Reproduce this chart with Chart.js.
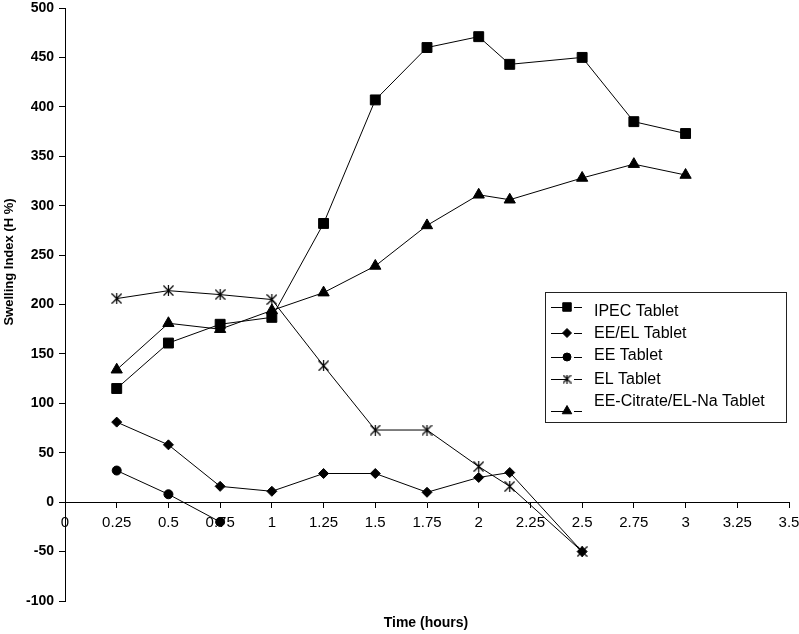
<!DOCTYPE html>
<html>
<head>
<meta charset="utf-8">
<script src="https://cdn.jsdelivr.net/npm/chart.js@4.4.0/dist/chart.umd.min.js"></script>
<style>
html, body { margin: 0; padding: 0; background: #fff; }
#wrap { width: 799px; height: 634px; }
</style>
</head>
<body>
<div id="wrap"><canvas id="linechart"></canvas></div>
<script>
// values
const ipecTimes = [0.25, 0.5, 0.75, 1, 1.25, 1.5, 1.75, 2, 2.15, 2.5, 2.75, 3];
const ipecValues = [115, 161, 180, 187, 282, 407, 460, 471, 443, 450, 385, 373];
const eeElTimes = [0.25, 0.5, 0.75, 1, 1.25, 1.5, 1.75, 2, 2.15, 2.5];
const eeElValues = [81, 58, 16, 11, 29, 29, 10, 25, 30, -50];
const eeTimes = [0.25, 0.5, 0.75];
const eeValues = [32, 8, -20];
const elTimes = [0.25, 0.5, 0.75, 1, 1.25, 1.5, 1.75, 2, 2.15, 2.5];
const elValues = [206, 214, 210, 205, 138, 73, 73, 36, 16, -50];
const citrateTimes = [0.25, 0.5, 0.75, 1, 1.25, 1.5, 1.75, 2, 2.15, 2.5, 2.75, 3];
const citrateValues = [134, 181, 175, 194, 212, 239, 280, 311, 306, 328, 342, 331];

const seriesNames = ['IPEC Tablet', 'EE/EL Tablet', 'EE Tablet', 'EL Tablet', 'EE-Citrate/EL-Na Tablet'];
const xMin = 0, xMax = 3.5, xStep = 0.25;
const yMin = -100, yMax = 500, yStep = 50;

function pairs(xs, ys) {
	return xs.map((x, i) => ({x: x, y: ys[i]}));
}

// six-armed asterisk marker
function asterisk(size) {
	const c = document.createElement('canvas');
	c.width = size; c.height = size;
	const g = c.getContext('2d');
	const m = size / 2;
	g.strokeStyle = '#000';
	g.lineWidth = 1.2;
	g.beginPath();
	g.moveTo(0.5, 0.5); g.lineTo(size - 0.5, size - 0.5);
	g.moveTo(size - 0.5, 0.5); g.lineTo(0.5, size - 0.5);
	g.moveTo(m, 0); g.lineTo(m, size);
	g.stroke();
	return c;
}
const starBig = asterisk(11);
const starSmall = asterisk(9);

function series(label, xs, ys, style, radius) {
	return {
		label: label,
		data: pairs(xs, ys),
		borderColor: '#000',
		backgroundColor: '#000',
		borderWidth: 1,
		pointStyle: style,
		pointRadius: radius,
		pointHoverRadius: radius,
		pointBackgroundColor: '#000',
		pointBorderColor: '#000',
		pointBorderWidth: 1,
		fill: false,
		tension: 0
	};
}

const legendRows = [
	{style: 'rect', r: 6, my: 307, ty: 312},
	{style: 'rectRot', r: 4.5, my: 333, ty: 334},
	{style: 'circle', r: 4, my: 357, ty: 356},
	{style: starSmall, r: 4, my: 379, ty: 380},
	{style: 'triangle', r: 5.5, my: 411, ty: 402}
];

const boxPlugin = {
	id: 'boxLegend',
	afterDraw(chart) {
		const ctx = chart.ctx;
		ctx.save();
		// axis titles
		ctx.fillStyle = '#000';
		ctx.font = 'bold 13px "Liberation Sans", Arial, sans-serif';
		ctx.textAlign = 'center';
		ctx.textBaseline = 'middle';
		ctx.save();
		ctx.translate(9, 262);
		ctx.rotate(-Math.PI / 2);
		ctx.fillText('Swelling Index (H %)', 0, 0);
		ctx.restore();
		ctx.font = 'bold 14px "Liberation Sans", Arial, sans-serif';
		ctx.fillText('Time (hours)', 426, 623);

		// legend box
		ctx.strokeStyle = '#222';
		ctx.lineWidth = 1;
		ctx.strokeRect(545.5, 292.5, 241, 130);
		ctx.font = '16px "Liberation Sans", Arial, sans-serif';
		ctx.textAlign = 'left';
		legendRows.forEach((row, i) => {
			ctx.strokeStyle = '#000';
			ctx.beginPath();
			ctx.moveTo(551, row.my + 0.5);
			ctx.lineTo(568, row.my + 0.5);
			ctx.moveTo(574, row.my + 0.5);
			ctx.lineTo(582, row.my + 0.5);
			ctx.stroke();
			ctx.fillStyle = '#000';
			Chart.helpers.drawPoint(ctx, {pointStyle: row.style, radius: row.r, rotation: 0, borderWidth: 1}, 567, row.my);
			ctx.fillStyle = '#000';
			ctx.fillText(seriesNames[i], 594, row.ty);
		});
		ctx.restore();
	}
};

new Chart(document.getElementById('linechart'), {
	type: 'line',
	data: {
		datasets: [
			series(seriesNames[0], ipecTimes, ipecValues, 'rect', 7),
			series(seriesNames[1], eeElTimes, eeElValues, 'rectRot', 5),
			series(seriesNames[2], eeTimes, eeValues, 'circle', 4.5),
			series(seriesNames[3], elTimes, elValues, starBig, 6),
			series(seriesNames[4], citrateTimes, citrateValues, 'triangle', 6.5)
		]
	},
	options: {
		responsive: true,
		maintainAspectRatio: false,
		animation: false,
		layout: {padding: {left: 0, right: 10, top: 5, bottom: 33}},
		scales: {
			x: {
				type: 'linear',
				position: {y: 0},
				min: xMin,
				max: xMax,
				afterFit(scale) { scale.paddingLeft = 0; scale.paddingRight = 0; },
				ticks: {
					stepSize: xStep,
					autoSkip: false,
					maxRotation: 0,
					color: '#000',
					padding: 7,
					callback: (v) => String(Math.round(v * 100) / 100),
					font: {family: '"Liberation Sans", Arial, sans-serif', size: 15}
				},
				grid: {drawOnChartArea: false, tickLength: 5, color: '#000'},
				border: {color: '#000', width: 1}
			},
			y: {
				position: 'left',
				min: yMin,
				max: yMax,
				afterFit(scale) { scale.width = 65; scale.paddingTop = 0; scale.paddingBottom = 0; },
				ticks: {
					stepSize: yStep,
					color: '#000',
					padding: 5,
					font: {family: '"Liberation Sans", Arial, sans-serif', size: 14, weight: 'bold', lineHeight: 0.6}
				},
				grid: {drawOnChartArea: false, tickLength: 6, color: '#000'},
				border: {color: '#000', width: 1}
			}
		},
		plugins: {
			legend: {display: false},
			tooltip: {enabled: false}
		}
	},
	plugins: [boxPlugin]
});
</script>
</body>
</html>
